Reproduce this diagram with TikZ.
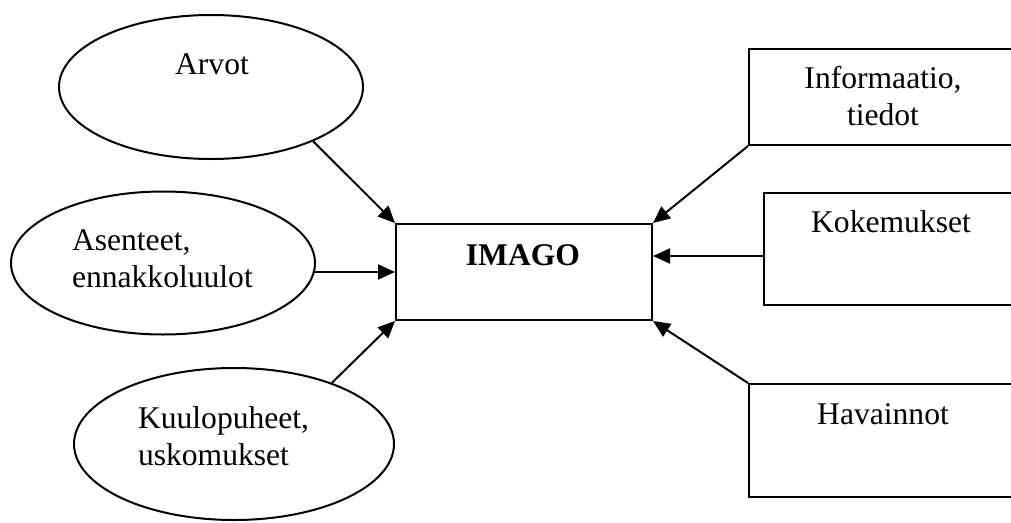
\documentclass[tikz,border=0pt]{standalone}
\usepackage{fontspec}
\setmainfont{Liberation Serif}
\usetikzlibrary{shapes.geometric,arrows.meta}
\begin{document}
\begin{tikzpicture}[x=1pt,y=-1pt,
  line width=2pt,
  oval/.style={draw,ellipse,inner sep=0pt},
  box/.style={draw,rectangle,inner sep=0pt,anchor=north west},
  lbl/.style={font=\fontsize{31.6}{37}\selectfont,inner sep=0pt},
  arr/.style={-{Triangle[length=17pt,width=15pt]}}]
\useasboundingbox (0,0) rectangle (1011,522);
\clip (0,0) rectangle (1011,522);
% left ellipses
\node[oval,minimum width=304pt,minimum height=144pt] (arvot) at (211,87) {};
\node[oval,minimum width=304pt,minimum height=143pt] (asen) at (163,263) {};
\node[oval,minimum width=320pt,minimum height=152pt] (kuulo) at (234,444) {};
% centre
\node[draw,rectangle,inner sep=0pt,minimum width=256pt,minimum height=96pt] (imago) at (524,272) {};
% right boxes
\node[box,minimum width=270pt,minimum height=96pt] (info) at (748,48) {};
\node[box,minimum width=255pt,minimum height=112pt] (kok) at (763,192) {};
\node[box,minimum width=270pt,minimum height=113pt] (hav) at (748,383) {};
% texts (base = baseline of last line)
\node[lbl,anchor=base] (tarvot) at (212,74) {Arvot};
\node[lbl,anchor=base west,align=left] (tasen) at (71,287) {Asenteet,\\ennakkoluulot};
\node[lbl,anchor=base west,align=left] (tkuulo) at (137,465) {Kuulopuheet,\\uskomukset};
\node[lbl,anchor=base,font=\fontsize{31.6}{37}\selectfont\bfseries] (timago) at (523,265) {IMAGO};
\node[lbl,anchor=base,align=center] (tinfo) at (883,125) {Informaatio,\\tiedot};
\node[lbl,anchor=base] (tkok) at (891,232) {Kokemukset};
\node[lbl,anchor=base] (thav) at (883,424) {Havainnot};
% arrows
\draw[arr] (arvot.-28) -- (imago.north west);
\coordinate (ain) at ([xshift=-2pt]imago.west -| asen.east);
\draw[arr] (ain) -- (imago.west);
\draw[arr] (kuulo.32) -- (imago.south west);
\draw[arr] (info.south west) -- (imago.north east);
\coordinate (kin) at ([yshift=16pt]imago.east);
\draw[arr] (kin -| kok.west) -- (kin);
\draw[arr] (hav.north west) -- (imago.south east);
\end{tikzpicture}
\end{document}
